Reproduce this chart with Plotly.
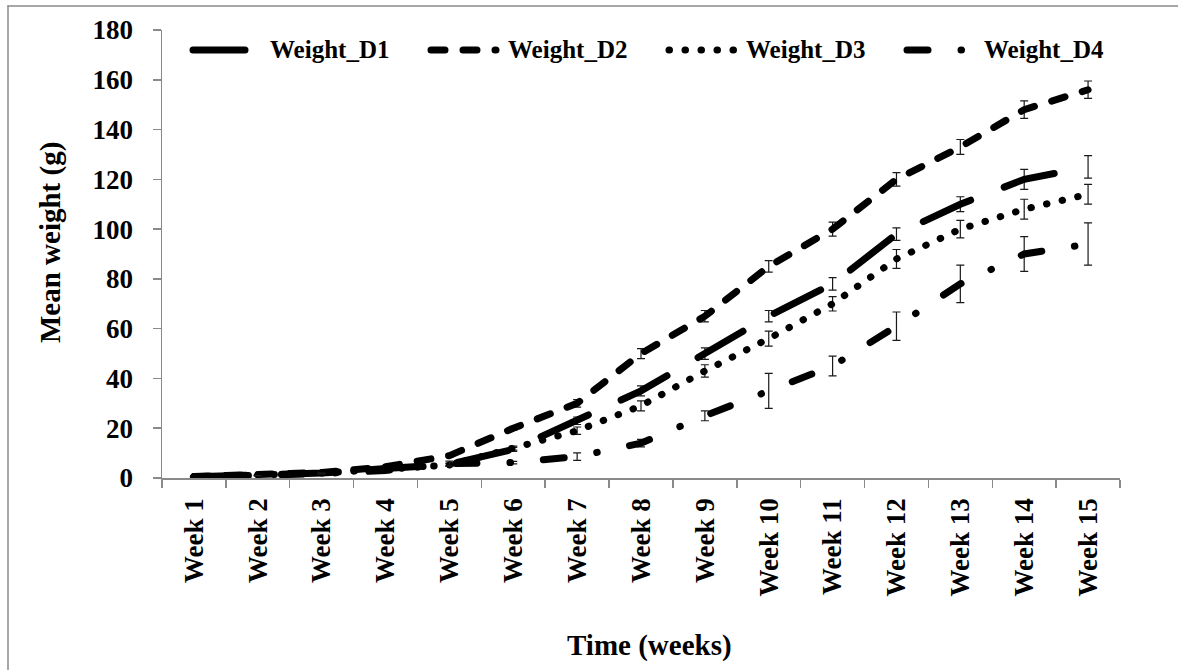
import plotly.graph_objects as go

weeks = [f"Week {i}" for i in range(1, 16)]
series_names = ["Weight_D1", "Weight_D2", "Weight_D3", "Weight_D4"]

weight_d1 = [0.5, 1.0, 2.0, 3.8, 5.5, 11.5, 23, 35, 50, 65, 78, 98, 110, 120, 125]
weight_d2 = [0.6, 1.2, 2.2, 4.5, 9.0, 20, 30, 50, 65, 85, 100, 120, 133, 148, 156]
weight_d3 = [0.5, 1.0, 2.0, 3.5, 5.2, 12, 19, 29, 43, 56, 70, 88, 100, 108, 114]
weight_d4 = [0.4, 0.9, 1.8, 3.0, 5.8, 6.2, 8.6, 14, 25, 35, 45, 61, 78, 90, 94]

err_d1 = [0.1, 0.1, 0.2, 0.3, 0.5, 0.8, 1.5, 2.0, 2.3, 2.3, 2.5, 2.5, 3.0, 4.0, 4.5]
err_d2 = [0.1, 0.1, 0.2, 0.3, 0.5, 0.8, 1.5, 2.0, 2.3, 2.3, 2.8, 2.7, 3.0, 3.5, 3.5]
err_d3 = [0.1, 0.1, 0.2, 0.3, 0.5, 0.8, 1.5, 2.0, 2.5, 3.0, 2.9, 3.8, 3.5, 4.0, 4.0]
err_d4 = [0.1, 0.1, 0.2, 0.3, 1.0, 0.5, 1.5, 1.5, 2.0, 7.0, 4.0, 5.7, 7.5, 7.0, 8.5]

y_ticks = [0, 20, 40, 60, 80, 100, 120, 140, 160, 180]

values = [weight_d1, weight_d2, weight_d3, weight_d4]
errors = [err_d1, err_d2, err_d3, err_d4]
dashes = ["52px,36px", "14px,18px", "0.5px,15.5px", "21px,33px,0.5px,33px"]

FONT = "Liberation Serif, Times New Roman, serif"
LINE_W = 7

# plot area geometry (pixels)
W, H = 1178, 670
L, R, T, B = 162, 58, 30, 192
PW, PH = W - L - R, H - T - B


def px(x):
    return (x - L) / PW


def py(y):
    return (H - B - y) / PH


fig = go.Figure()
for name, vals, errs, dash in zip(series_names, values, errors, dashes):
    fig.add_trace(go.Scatter(
        x=weeks, y=vals, name=name, mode="lines",
        line=dict(color="black", width=LINE_W, dash=dash),
        error_y=dict(type="data", array=errs, visible=True,
                     color="#1a1a1a", thickness=1.2, width=4),
        showlegend=False, hoverinfo="skip",
    ))

frame_line = dict(color="#8a8a8a", width=1.5)
shapes = [
    # chart-area frame (left and top edges; the others lie outside the window)
    dict(type="line", xref="paper", yref="paper",
         x0=px(8), x1=px(8), y0=py(670), y1=py(6), line=frame_line),
    dict(type="line", xref="paper", yref="paper",
         x0=px(8), x1=px(1178), y0=py(6), y1=py(6), line=frame_line),
]
annotations = []

# custom legend
leg_y = py(50)
for i, (name, dash) in enumerate(zip(series_names, dashes)):
    s = 190 + 238 * i
    shapes.append(dict(type="line", xref="paper", yref="paper",
                       x0=px(s + 3), x1=px(s + 68), y0=leg_y, y1=leg_y,
                       line=dict(color="black", width=LINE_W, dash=dash)))
    annotations.append(dict(xref="paper", yref="paper", x=px(s + 78), y=leg_y,
                            text=name, showarrow=False, xanchor="left", yanchor="middle",
                            font=dict(family=FONT, size=25, color="black", weight="bold")))

annotations.append(dict(xref="paper", yref="paper", x=px(50), y=py(243),
                        text="Mean weight (g)", textangle=-90, showarrow=False,
                        xanchor="center", yanchor="middle",
                        font=dict(family=FONT, size=29, color="black", weight="bold")))
annotations.append(dict(xref="paper", yref="paper", x=px(649), y=py(645),
                        text="Time (weeks)", showarrow=False,
                        xanchor="center", yanchor="middle",
                        font=dict(family=FONT, size=29, color="black", weight="bold")))

fig.update_layout(
    width=W, height=H,
    margin=dict(l=L, r=R, t=T, b=B, autoexpand=False),
    paper_bgcolor="white", plot_bgcolor="white",
    shapes=shapes, annotations=annotations,
    showlegend=False, hovermode=False,
)
fig.update_xaxes(
    type="category", range=[-0.5, 14.5], showgrid=False, zeroline=False,
    showline=True, linecolor="#8a8a8a", linewidth=1.5,
    ticks="outside", ticklen=8, tickcolor="#8a8a8a", tickwidth=1.5,
    tickson="boundaries", tickangle=-90, ticklabelstandoff=8,
    tickfont=dict(family=FONT, size=27, color="black", weight="bold"),
    automargin=False,
)
fig.update_yaxes(
    range=[0, 180], tickvals=y_ticks, showgrid=False, zeroline=False,
    showline=True, linecolor="#8a8a8a", linewidth=1.5,
    ticks="outside", ticklen=8, tickcolor="#8a8a8a", tickwidth=1.5,
    ticklabelstandoff=14,
    tickfont=dict(family=FONT, size=27, color="black", weight="bold"),
    automargin=False,
)

post = """
var st = document.createElement('style');
st.innerHTML = 'html, body { margin: 0 !important; padding: 0 !important; overflow: hidden !important; }' +
  '.scatterlayer .js-line, .shapelayer path { stroke-linecap: round !important; }';
document.head.appendChild(st);
document.body.style.margin = '0';
"""

fig.write_html("out.html", post_script=post, config={"displayModeBar": False, "staticPlot": True})
